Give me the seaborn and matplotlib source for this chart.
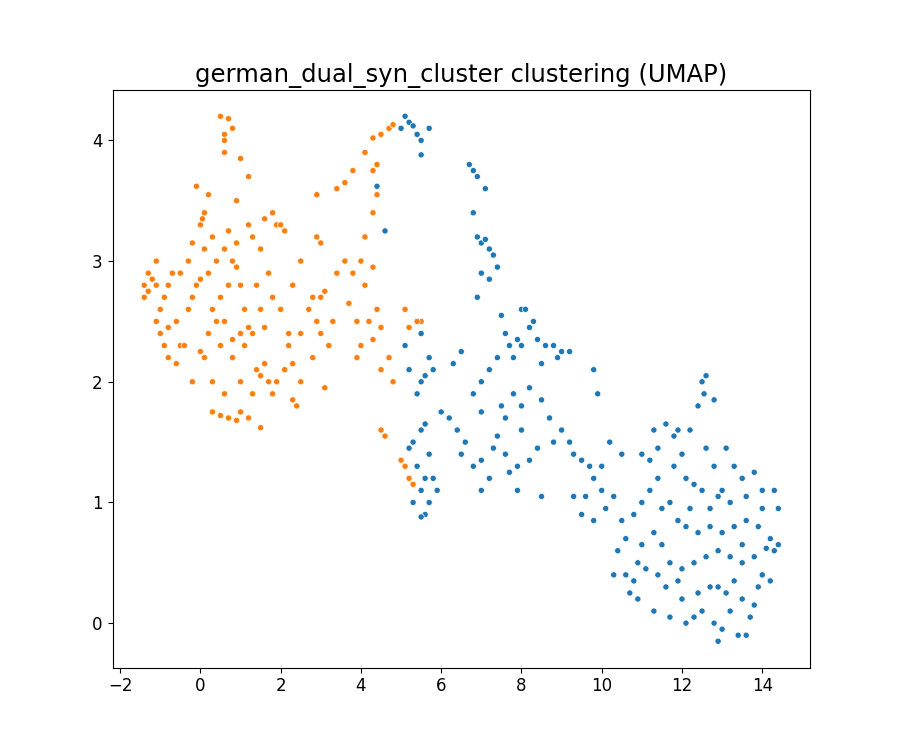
import numpy as np
import pandas as pd
import matplotlib
matplotlib.use("Agg")
import matplotlib.pyplot as plt
import seaborn as sns

# ================== DADOS ==================
orange_pts = [(-1.4,2.8),(-1.3,2.75),(-1.4,2.7),(-1.2,2.85),(-1.3,2.9),(-1.1,2.8),(-1.0,2.6),(-1.1,2.5),(-1.0,2.4),(-0.9,2.3),(-0.8,2.2),(-0.6,2.15),(-0.5,2.3),(-0.6,2.5),(-0.8,2.45),(-0.4,2.3),(-0.3,2.6),(-0.2,2.7),(-0.1,2.8),(-0.5,2.9),(-0.7,2.9),(-0.9,2.7),(-1.1,3.0),(-0.8,2.8),(-0.3,3.0),(-0.2,3.15),(0.0,3.3),(0.05,3.35),(0.1,3.4),(-0.1,3.62),(0.2,3.55),(0.3,3.2),(0.1,3.1),(0.0,2.85),(0.2,2.9),(0.4,3.0),(0.5,2.7),(0.4,2.5),(0.2,2.4),(0.1,2.2),(0.3,2.0),(0.5,2.3),(0.6,2.5),(0.3,1.75),(0.5,1.72),(0.7,1.7),(0.9,1.68),(1.0,1.75),(1.2,1.7),(1.5,1.62),(1.3,1.9),(1.0,2.0),(0.8,2.2),(1.0,2.4),(1.2,2.45),(1.4,2.1),(1.5,2.05),(1.6,2.15),(1.8,1.9),(1.9,2.0),(2.1,2.1),(2.3,1.85),(2.4,1.8),(2.5,2.0),(2.2,2.3),(2.5,2.4),(2.7,2.6),(2.9,2.5),(3.0,2.4),(3.2,2.3),(3.1,1.95),(2.8,2.2),(3.3,2.5),(3.0,2.7),(2.8,2.7),(3.1,2.75),(3.4,2.9),(3.7,2.65),(3.9,2.5),(4.0,2.3),(4.2,2.5),(4.4,2.6),(4.5,2.45),(4.7,2.2),(4.5,2.1),(4.3,2.35),(3.8,2.9),(3.6,3.0),(3.0,3.15),(2.9,3.2),(2.5,3.0),(2.3,2.8),(2.0,2.6),(1.8,2.7),(1.7,2.9),(1.5,3.1),(1.3,3.2),(1.2,3.3),(0.9,3.15),(0.8,3.0),(0.6,3.1),(0.7,3.25),(0.9,3.5),(0.6,3.9),(0.6,4.0),(0.5,4.2),(0.7,4.18),(0.8,4.1),(0.6,4.05),(1.0,3.85),(1.2,3.7),(0.9,2.95),(1.0,2.8),(1.4,2.8),(1.5,2.6),(1.1,2.6),(0.7,2.8),(1.8,3.4),(1.9,3.3),(1.6,3.35),(2.0,3.3),(2.1,3.25),(2.9,3.55),(3.4,3.6),(3.6,3.65),(3.8,3.75),(4.1,3.9),(4.3,4.02),(4.5,4.05),(4.7,4.1),(4.8,4.13),(4.4,3.8),(4.3,3.75),(4.4,3.55),(4.3,3.4),(4.1,3.2),(4.0,3.0),(4.3,2.95),(4.1,2.8),(4.5,1.6),(4.6,1.55),(5.0,1.35),(5.1,1.3),(5.2,1.2),(5.3,1.15),(5.5,2.5),(5.4,2.5),(5.1,2.6),(5.2,2.45),(4.8,2.0),(3.9,2.2),(1.1,2.3),(0.8,2.35),(-0.2,2.0),(0.6,1.9),(1.7,2.0),(2.3,2.15),(0.0,2.25),(0.3,2.6),(1.3,2.4),(1.6,2.45),(2.2,2.4)]

blue_pts = [(5.0,4.1),(5.2,4.15),(5.3,4.12),(5.4,4.05),(5.5,4.0),(5.7,4.1),(5.5,3.88),(5.1,4.2),(4.4,3.62),(4.6,3.25),(6.7,3.8),(6.8,3.75),(6.9,3.7),(7.1,3.6),(6.8,3.4),(6.9,3.2),(7.0,3.15),(7.1,3.18),(7.2,3.1),(7.3,3.05),(7.4,2.95),(7.0,2.9),(7.2,2.85),(6.9,2.7),(7.5,2.55),(7.6,2.4),(7.7,2.3),(7.9,2.35),(8.0,2.6),(8.1,2.6),(8.3,2.5),(8.2,2.45),(8.4,2.35),(8.6,2.3),(8.8,2.3),(9.0,2.25),(9.2,2.25),(8.9,2.2),(8.5,2.15),(8.0,2.3),(7.8,2.2),(7.4,2.2),(7.2,2.1),(7.0,2.0),(6.8,1.9),(7.0,1.75),(7.5,1.8),(7.6,1.7),(7.8,1.9),(8.0,1.8),(8.2,1.95),(8.5,1.85),(8.7,1.7),(9.0,1.6),(9.2,1.5),(8.8,1.5),(8.4,1.45),(8.2,1.35),(7.9,1.3),(7.7,1.25),(7.6,1.4),(7.3,1.45),(7.0,1.35),(6.8,1.3),(6.5,1.4),(7.2,1.2),(7.0,1.1),(7.9,1.1),(8.5,1.05),(8.0,1.6),(7.4,1.55),(6.5,2.25),(6.3,2.15),(6.2,1.7),(6.0,1.75),(6.4,1.6),(6.6,1.5),(5.7,2.2),(5.8,2.1),(5.6,2.05),(5.5,2.0),(5.4,1.9),(5.2,2.1),(5.1,2.3),(5.5,2.4),(5.4,2.5),(5.6,1.65),(5.5,1.6),(5.7,1.4),(5.3,1.5),(5.2,1.45),(5.4,1.3),(5.6,1.2),(5.5,1.1),(5.3,1.0),(5.7,1.0),(5.6,0.9),(5.5,0.88),(5.8,1.2),(5.9,1.1),(9.3,1.4),(9.5,1.35),(9.7,1.3),(9.8,1.2),(10.0,1.3),(10.2,1.5),(10.5,1.4),(10.0,1.1),(9.6,1.05),(9.8,0.85),(10.1,0.95),(10.3,1.05),(10.5,0.85),(9.3,1.05),(9.5,0.9),(9.8,2.1),(9.9,1.9),(11.0,1.4),(11.2,1.35),(11.4,1.45),(11.3,1.6),(11.6,1.65),(11.8,1.55),(11.9,1.6),(12.2,1.6),(12.4,1.8),(12.5,2.0),(12.6,2.05),(12.55,1.9),(12.8,1.85),(12.6,1.45),(12.8,1.3),(13.1,1.45),(13.3,1.3),(13.5,1.2),(13.8,1.25),(14.0,1.1),(14.3,1.1),(13.6,1.05),(13.2,1.0),(12.9,1.05),(12.5,1.1),(12.3,1.15),(12.1,1.2),(12.0,1.4),(11.8,1.3),(11.4,1.2),(11.2,1.1),(11.0,1.0),(10.8,0.9),(11.5,0.95),(11.7,1.0),(11.9,0.85),(12.1,0.8),(12.4,0.75),(12.7,0.8),(13.0,0.75),(13.3,0.8),(13.6,0.85),(13.9,0.8),(14.2,0.7),(14.4,0.95),(14.3,0.6),(14.4,0.65),(14.1,0.62),(13.8,0.55),(13.5,0.5),(13.2,0.55),(12.9,0.6),(12.6,0.55),(12.3,0.5),(12.0,0.45),(11.7,0.5),(11.4,0.4),(11.1,0.45),(10.8,0.35),(10.6,0.4),(10.4,0.6),(10.7,0.25),(10.9,0.2),(11.3,0.1),(11.6,0.3),(11.9,0.35),(12.1,0.0),(12.3,0.05),(12.5,0.1),(12.8,0.0),(12.9,-0.15),(13.0,-0.05),(13.2,0.1),(13.4,-0.1),(13.5,0.2),(13.6,-0.1),(13.7,0.05),(13.9,0.3),(14.0,0.4),(14.2,0.35),(13.3,0.35),(12.7,0.3),(12.4,0.25),(12.0,0.2),(11.7,0.05),(10.6,0.7),(11.0,0.65),(11.3,0.75),(12.2,0.95),(12.7,0.95),(13.0,1.1),(13.5,0.65),(14.0,0.95),(13.8,0.15),(10.3,0.4),(10.9,0.5),(11.5,0.65),(12.9,0.3),(13.1,0.25)]

df = pd.concat([
    pd.DataFrame(blue_pts, columns=["x", "y"]).assign(cluster=0),
    pd.DataFrame(orange_pts, columns=["x", "y"]).assign(cluster=1),
])

# ================== PLOT ==================
fig, ax = plt.subplots(figsize=(9, 7.5), dpi=100)
sns.scatterplot(data=df, x="x", y="y", hue="cluster", palette=["#1f77b4", "#ff7f0e"],
                s=20, edgecolor="white", linewidth=0.5, legend=False, ax=ax)
ax.set_title("german_dual_syn_cluster clustering (UMAP)", fontsize=17.5)
ax.set_xlabel(""); ax.set_ylabel("")
ax.set_xticks(range(-2, 15, 2)); ax.set_yticks(range(0, 5))
ax.tick_params(labelsize=12)
fig.savefig("out.png")
